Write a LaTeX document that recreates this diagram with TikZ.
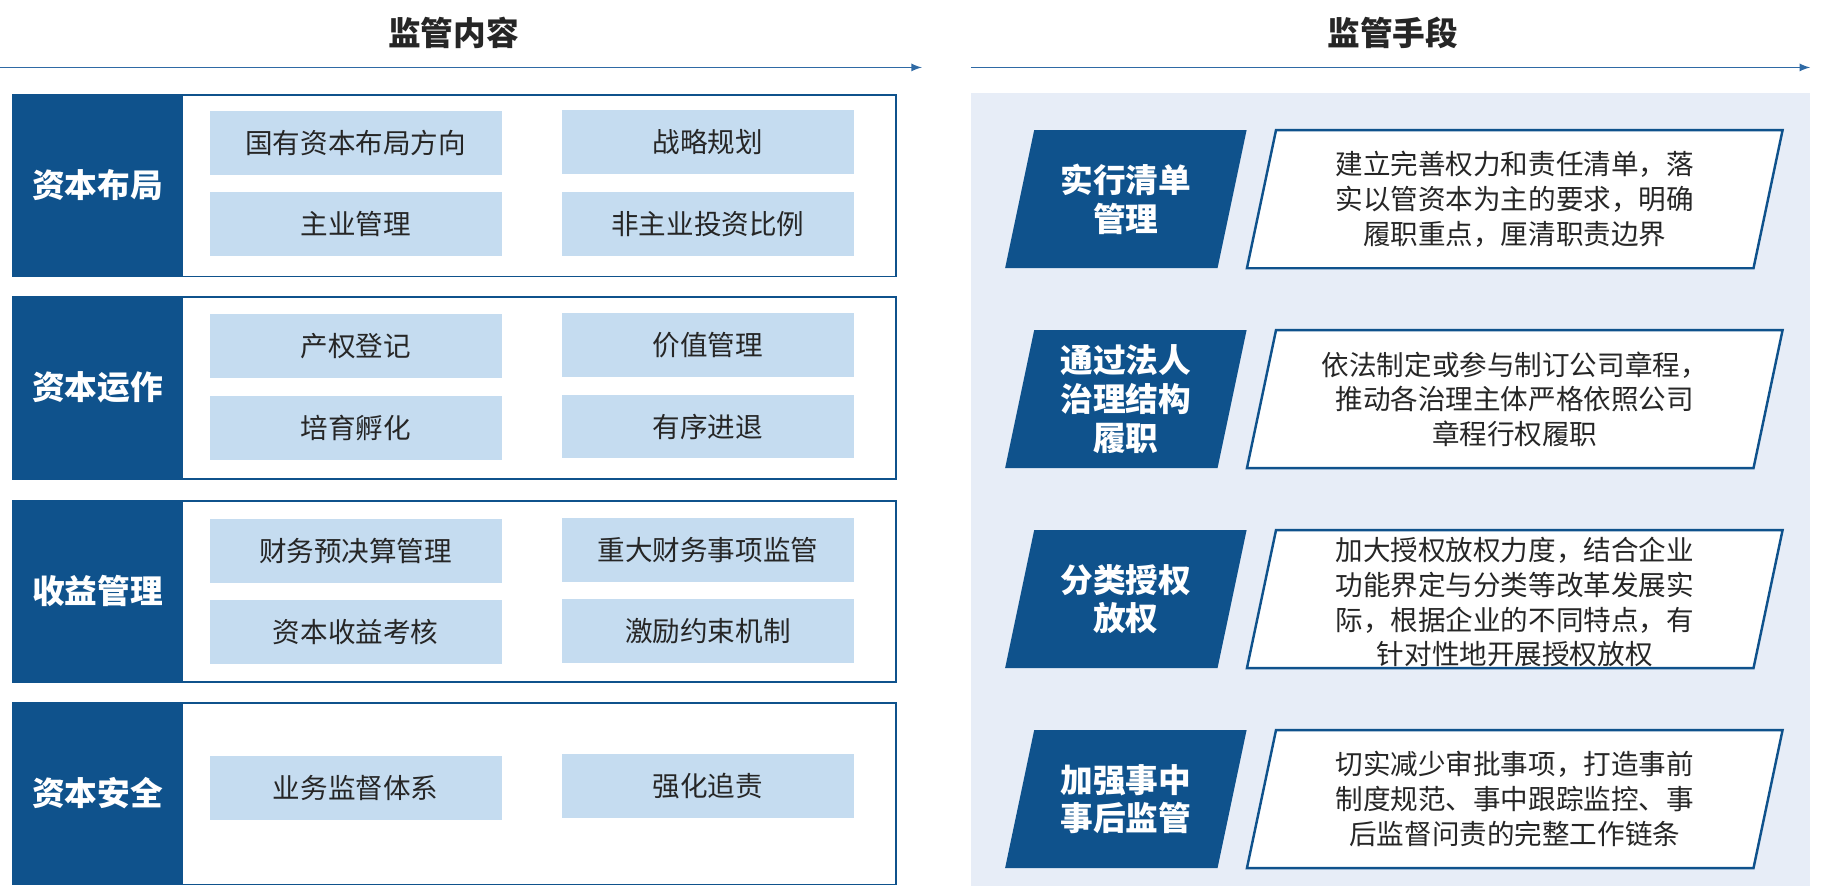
\documentclass[tikz,border=0pt]{standalone}
\usepackage{fontspec}
\setmainfont{Noto Sans CJK SC}
\usetikzlibrary{positioning}
\definecolor{navy}{HTML}{0F528C}
\definecolor{pale}{HTML}{C5DCF0}
\definecolor{panel}{HTML}{E7EDF7}
\definecolor{rule}{HTML}{2F6AA5}
\tikzset{
  head/.style={font=\fontsize{16}{18}\selectfont\bfseries,text=black!85},
  frame/.style={draw=navy,line width=0.9pt,minimum width=760*0.02cm,minimum height=156*0.02cm,anchor=north west},
  cat/.style={fill=navy,text=white,font=\fontsize{16}{18}\selectfont\bfseries,minimum width=147*0.02cm,minimum height=156*0.02cm,anchor=north west},
  item/.style={fill=pale,text=black!85,font=\fontsize{13.5}{15}\selectfont,minimum width=251*0.02cm,minimum height=55*0.02cm,anchor=north west},
  badge/.style={text=white,font=\fontsize{16}{19}\selectfont\bfseries,align=center,minimum width=182*0.02cm,minimum height=118*0.02cm,anchor=north west},
  desc/.style={text=black!85,font=\fontsize{13.5}{17}\selectfont,align=center,minimum width=435*0.02cm,minimum height=118*0.02cm,anchor=north west},
}
\begin{document}
\begin{tikzpicture}[x=0.02cm,y=-0.02cm]
\useasboundingbox (0,0) rectangle (1568,762);
% headers
\node[head] (hl) at (390,28) {监管内容};
\node[head] (hr) at (1198,28) {监管手段};
\coordinate (l0) at (0,58); \coordinate (l1) at (793,58);
\coordinate (r0) at (835,58); \coordinate (r1) at (1557,58);
\draw[rule,line width=0.8pt,-latex] (l0) -- (l1);
\draw[rule,line width=0.8pt,-latex] (r0) -- (r1);
% left side
\foreach \y/\name in {81/资本布局,255/资本运作,430/收益管理,604/资本安全}{
  \node[frame] at (10,\y) {};
  \node[cat] at (10,\y) {\name};
}
\node[item] (a1) at (180,95) {国有资本布局方向};
\node[item] (a2) at (483,94) {战略规划};
\node[item] (a3) at (180,165) {主业管理};
\node[item] (a4) at (483,165) {非主业投资比例};
\node[item] (b1) at (180,270) {产权登记};
\node[item] (b2) at (483,269) {价值管理};
\node[item] (b3) at (180,340) {培育孵化};
\node[item] (b4) at (483,339) {有序进退};
\node[item] (c1) at (180,446) {财务预决算管理};
\node[item] (c2) at (483,445) {重大财务事项监管};
\node[item] (c3) at (180,516) {资本收益考核};
\node[item] (c4) at (483,515) {激励约束机制};
\node[item] (d1) at (180,650) {业务监督体系};
\node[item] (d2) at (483,648) {强化追责};
% right side
\fill[panel] (835,80) rectangle (1557,762);
\foreach \y/\k/\t/\d in {
  112/s1/{实行清单\\管理}/{建立完善权力和责任清单，落\\实以管资本为主的要求，明确\\履职重点，厘清职责边界},
  284/s2/{通过法人\\治理结构\\履职}/{依法制定或参与制订公司章程，\\推动各治理主体严格依照公司\\章程行权履职},
  456/s3/{分类授权\\放权}/{加大授权放权力度，结合企业\\功能界定与分类等改革发展实\\际，根据企业的不同特点，有\\针对性地开展授权放权},
  628/s4/{加强事中\\事后监管}/{切实减少审批事项，打造事前\\制度规范、事中跟踪监控、事\\后监督问责的完整工作链条}}{
  \node[badge] (\k) at (877,\y) {};
  \fill[navy] ([xshift=12.5*0.02cm]\k.north west) -- ([xshift=12.5*0.02cm]\k.north east)
    -- ([xshift=-12.5*0.02cm]\k.south east) -- ([xshift=-12.5*0.02cm]\k.south west) -- cycle;
  \node[badge] at (\k.north west) {\t};
  \node[desc] (\k d) at (1085,\y) {};
  \filldraw[fill=white,draw=navy,line width=1.2pt] ([xshift=12.5*0.02cm]\k d.north west) -- ([xshift=12.5*0.02cm]\k d.north east)
    -- ([xshift=-12.5*0.02cm]\k d.south east) -- ([xshift=-12.5*0.02cm]\k d.south west) -- cycle;
  \node[desc] at (\k d.north west) {\d};
}
\end{tikzpicture}
\end{document}
